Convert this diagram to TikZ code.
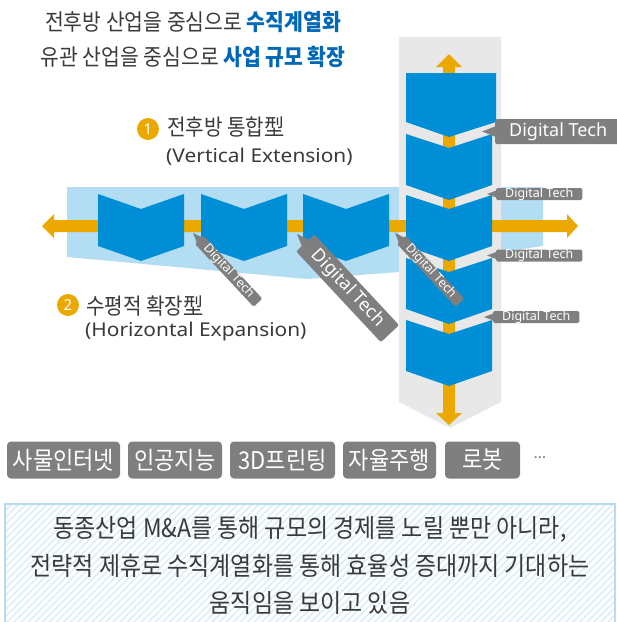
\documentclass[tikz,border=0pt]{standalone}
\usepackage{fontspec}
\setmainfont{Noto Sans CJK KR}
\newfontfamily\krc{Noto Sans CJK KR}[FakeStretch=0.9]
\newfontfamily\lat{Noto Sans}
\newfontfamily\latw{Noto Sans}[FakeStretch=1.1]
\usetikzlibrary{patterns.meta}
\definecolor{blk}{HTML}{008FD6}
\definecolor{band}{HTML}{B2DDF3}
\definecolor{colgrey}{HTML}{E8E8E8}
\definecolor{org}{HTML}{EBA900}
\definecolor{tg}{HTML}{7F7F7F}
\definecolor{ttl}{HTML}{0068B6}
\definecolor{txt}{HTML}{3A3A3A}
\definecolor{hatch}{HTML}{DCEEF9}
\definecolor{bord}{HTML}{B5DDF2}
\newcommand\mkTag[6]{%
  \begin{scope}[shift={#2},rotate=#3]
    \fill[tg] (0,0) -- (#5+1,-#5*0.42) -- (#5+1,#5*0.42) -- cycle;
    \node[#4,anchor=west,transform shape] (#1) at (#5,0) {#6};
  \end{scope}}
\begin{document}
\begin{tikzpicture}[x=1pt,y=-1pt,
  smalltag/.style={fill=tg,text=white,rounded corners=1.5pt,inner xsep=9pt,inner ysep=0pt,
    minimum height=12pt,font=\lat\fontsize{12.5}{12.5}\selectfont,text height=9pt,text depth=2.5pt},
  bigtag/.style={fill=tg,text=white,rounded corners=2pt,inner xsep=13pt,inner ysep=0pt,
    minimum height=25pt,font=\lat\fontsize{18}{18}\selectfont,text height=13pt,text depth=4pt},
  techbox/.style={fill=tg,text=white,rounded corners=4pt,minimum height=37pt,inner sep=0pt,
    font=\krc\fontsize{24.5}{24.5}\selectfont},
  numdot/.style={circle,fill=org,text=white,minimum size=22pt,inner sep=0pt,
    font=\lat\bfseries\fontsize{15}{15}\selectfont},
  lbl/.style={anchor=west,inner sep=0pt,text=txt},
  para/.style={inner sep=0pt,text=txt,font=\krc\fontsize{25.5}{25.5}\selectfont}]
\clip (0,0) rectangle (617,622);
% title
\node[inner sep=0pt,text=txt,font=\krc\fontsize{22.7}{22.7}\selectfont] (title1) at (193,22)
  {전후방 산업을 중심으로 {\bfseries\color{ttl}수직계열화}};
\node[inner sep=0pt,text=txt,font=\krc\fontsize{22.7}{22.7}\selectfont] (title2) at (193,57)
  {유관 산업을 중심으로 {\bfseries\color{ttl}사업 규모 확장}};
% horizontal band
\fill[band] (67,187) -- (543,187) -- (543,246) -- (501,252) -- (399,272) -- (307,279) -- (67,257) -- cycle;
% vertical column
\fill[colgrey] (399,37) -- (501,37) -- (501,402) -- (450,428) -- (399,402) -- cycle;
% horizontal arrow
\fill[org] (54,220) -- (567,220) -- (567,214) -- (578,226) -- (567,238) -- (567,232)
  -- (54,232) -- (54,238) -- (42,226) -- (54,214) -- cycle;
% vertical arrow
\fill[org] (443,67) -- (436,67) -- (449,54) -- (462,67) -- (455,67) -- (455,413)
  -- (462,413) -- (449,425) -- (436,413) -- (443,413) -- cycle;
% horizontal blocks
\foreach \a in {98,201,303}
  \fill[blk] (\a,194) -- (\a+43,209) -- (\a+86,194) -- (\a+86,246) -- (\a+43,261) -- (\a,246) -- cycle;
% vertical blocks
\fill[blk] (406,73) -- (496,73) -- (496,122) -- (449,137) -- (406,122) -- cycle;
\foreach \t in {134,195,258,320}
  \fill[blk] (406,\t) -- (449,\t+14) -- (492,\t) -- (492,\t+51) -- (449,\t+66) -- (406,\t+51) -- cycle;
% tags
\mkTag{tagv1}{(482,131.5)}{0}{bigtag,minimum width=126pt}{13}{Digital Tech}
\mkTag{tagv2}{(487,194)}{0}{smalltag}{9}{Digital Tech}
\mkTag{tagv3}{(487,255.5)}{0}{smalltag}{9}{Digital Tech}
\mkTag{tagv4}{(484,317)}{0}{smalltag}{9}{Digital Tech}
\mkTag{tagh1}{(193,233)}{-47}{smalltag}{9}{Digital Tech}
\mkTag{tagh2}{(297,234)}{-47}{bigtag}{12}{Digital Tech}
\mkTag{tagh3}{(395,233)}{-47}{smalltag}{9}{Digital Tech}
% labels
\node[numdot] (n1) at (148,129) {1};
\node[lbl,font=\krc\fontsize{22.4}{22.4}\selectfont] (l1) at (167,127) {전후방 통합型};
\node[lbl,font=\latw\fontsize{19}{19}\selectfont] (l1e) at (166,157) {(Vertical Extension)};
\node[numdot] (n2) at (68,305) {2};
\node[lbl,font=\krc\fontsize{22.4}{22.4}\selectfont] (l2) at (86,306) {수평적 확장型};
\node[lbl,font=\latw\fontsize{19}{19}\selectfont] (l2e) at (85,332) {(Horizontal Expansion)};
% tech boxes
\node[techbox,minimum width=113pt] (k1) at (63.5,460) {사물인터넷};
\node[techbox,minimum width=94pt] (k2) at (175,460) {인공지능};
\node[techbox,minimum width=105pt] (k3) at (282.5,460) {3D프린팅};
\node[techbox,minimum width=93pt] (k4) at (389.5,460) {자율주행};
\node[techbox,minimum width=75pt] (k5) at (482.5,460) {로봇};
\node[inner sep=0pt,text=tg,font=\lat\fontsize{16}{16}\selectfont] (dots) at (540,458) {…};
% bottom box
\fill[white] (5,504) rectangle (615,640);
\fill[pattern={Lines[angle=45,distance=5pt,line width=1.6pt]},pattern color=hatch] (5,504) rectangle (615,640);
\draw[bord,line width=1.6pt] (5,504) rectangle (615,640);
\node[para] (p1) at (310,529) {동종산업 M\&A를 통해 규모의 경제를 노릴 뿐만 아니라,};
\node[para] (p2) at (310,566) {전략적 제휴로 수직계열화를 통해 효율성 증대까지 기대하는};
\node[para] (p3) at (310,603) {움직임을 보이고 있음};
\end{tikzpicture}
\end{document}
